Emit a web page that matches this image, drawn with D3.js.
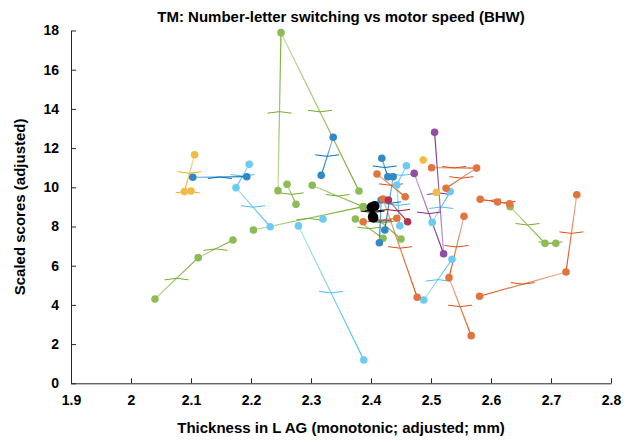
<!DOCTYPE html>
<html>
<head>
<meta charset="utf-8">
<script src="https://cdn.jsdelivr.net/npm/d3@7"></script>
<style>
  body { margin: 0; background: #fff; }
  svg text { font-family: "Liberation Sans", Arial, sans-serif; font-weight: bold; fill: #000; }
</style>
</head>
<body>
<div id="chart"></div>
<script>
// tick values
var xTicks = [1.9, 2.0, 2.1, 2.2, 2.3, 2.4, 2.5, 2.6, 2.7, 2.8];
var yTicks = [0, 2, 4, 6, 8, 10, 12, 14, 16, 18];

// trajectories per colour: each is a list of [thickness, score] visits
var greenPaths = [
    [[2.040, 4.30], [2.112, 6.41], [2.170, 7.31]],
    [[2.204, 7.82], [2.387, 9.01]],
    [[2.245, 9.83], [2.250, 17.89], [2.380, 9.81]],
    [[2.260, 10.15], [2.275, 9.13]],
    [[2.302, 10.10], [2.387, 9.01]],
    [[2.374, 8.38], [2.420, 7.40]],
    [[2.387, 9.01], [2.450, 7.36]],
    [[2.632, 9.01], [2.690, 7.14], [2.708, 7.14]]
];
var orangePaths = [
    [[2.582, 9.39], [2.611, 9.25], [2.631, 9.16]],
    [[2.743, 9.62], [2.725, 5.68], [2.581, 4.44]],
    [[2.555, 8.52], [2.530, 5.39], [2.567, 2.43]],
    [[2.420, 9.40], [2.477, 4.39]],
    [[2.410, 10.68], [2.457, 9.52]],
    [[2.501, 11.00], [2.576, 10.98], [2.525, 9.95]],
    [[2.387, 8.24], [2.443, 8.42]]
];
var lightBluePaths = [
    [[2.488, 4.25], [2.535, 6.33]],
    [[2.502, 8.21], [2.532, 9.78]],
    [[2.279, 8.03], [2.388, 1.19]],
    [[2.197, 11.17], [2.175, 9.98], [2.232, 7.99]],
    [[2.459, 11.10], [2.443, 10.12], [2.448, 8.04]],
    [[2.320, 8.38]]
];
var bluePaths = [
    [[2.103, 10.51], [2.193, 10.54]],
    [[2.337, 12.55], [2.317, 10.61]],
    [[2.418, 11.48], [2.428, 10.54]],
    [[2.437, 10.54], [2.423, 7.82]],
    [[2.417, 9.35], [2.414, 7.17]]
];
var yellowPaths = [
    [[2.106, 11.66], [2.089, 9.78], [2.100, 9.81]],
    [[2.487, 11.39]],
    [[2.509, 9.74]]
];
var purplePaths = [
    [[2.472, 10.71], [2.521, 6.61], [2.506, 12.81]]
];
var darkRedPaths = [
    [[2.429, 9.35], [2.461, 8.24]]
];
var blackPaths = [
    [[2.401, 8.98], [2.404, 8.45]],
    [[2.406, 9.05], [2.403, 8.50]]
];

var groups = [
    { line: "#77AC30", dot: "#8DBB55", paths: greenPaths, r: 3.8 },
    { line: "#4DBEEE", dot: "#6CCBF2", paths: lightBluePaths, r: 3.8 },
    { line: "#0072BD", dot: "#3088C8", paths: bluePaths, r: 3.8 },
    { line: "#EDB120", dot: "#F0BC45", paths: yellowPaths, r: 3.8 },
    { line: "#D95319", dot: "#E2743F", paths: orangePaths, r: 3.8 },
    { line: "#7E2F8E", dot: "#924CA2", paths: purplePaths, r: 3.8 },
    { line: "#A2142F", dot: "#B03552", paths: darkRedPaths, r: 3.8 },
    { line: "#000000", dot: "#000000", paths: blackPaths, r: 5 }
];

var width = 631, height = 442;
var margin = { top: 30.5, right: 20, bottom: 58.7, left: 71 };

var svg = d3.select("#chart").append("svg")
    .attr("width", width)
    .attr("height", height);

var x = d3.scaleLinear().domain([1.9, 2.8]).range([margin.left, width - margin.right]);
var y = d3.scaleLinear().domain([0, 18]).range([height - margin.bottom, margin.top]);

var defs = svg.append("defs");

// axes (ticks point inward)
var xAxis = svg.append("g")
    .attr("transform", "translate(0," + y(0) + ")")
    .call(d3.axisBottom(x).tickValues(xTicks).tickSizeInner(-5).tickSizeOuter(0).tickPadding(12)
        .tickFormat(function(d) { return d3.format("")(+d.toFixed(1)); }));
var yAxis = svg.append("g")
    .attr("transform", "translate(" + x(1.9) + ",0)")
    .call(d3.axisLeft(y).tickValues(yTicks).tickSizeInner(-5).tickSizeOuter(0).tickPadding(12));

[xAxis, yAxis].forEach(function(ax) {
    ax.select(".domain").attr("stroke", "#262626");
    ax.selectAll(".tick line").attr("stroke", "#262626");
    ax.selectAll(".tick text").attr("font-size", 14).attr("fill", "#000");
});

var plot = svg.append("g");
var segId = 0;

// lines with a fading gradient and a flat chevron at each midpoint
groups.forEach(function(g) {
    g.paths.forEach(function(p) {
        for (var i = 0; i < p.length - 1; i++) {
            var x0 = x(p[i][0]), y0 = y(p[i][1]), x1 = x(p[i + 1][0]), y1 = y(p[i + 1][1]);
            var id = "seg" + (segId++);
            var grad = defs.append("linearGradient").attr("id", id)
                .attr("gradientUnits", "userSpaceOnUse")
                .attr("x1", x0).attr("y1", y0).attr("x2", x1 + 0.01).attr("y2", y1);
            grad.append("stop").attr("offset", 0).attr("stop-color", g.line).attr("stop-opacity", 0.45);
            grad.append("stop").attr("offset", 1).attr("stop-color", g.line).attr("stop-opacity", 1);
            plot.append("line")
                .attr("x1", x0).attr("y1", y0).attr("x2", x1).attr("y2", y1)
                .attr("stroke", "url(#" + id + ")")
                .attr("stroke-width", 1.2);
            var mx = (x0 + x1) / 2, my = (y0 + y1) / 2;
            var dy = y1 < y0 ? 1.5 : -1.5;
            plot.append("path")
                .attr("d", "M" + (mx - 12) + "," + (my + dy) + "Q" + mx + "," + (my - dy) + " " + (mx + 12) + "," + (my + dy))
                .attr("fill", "none")
                .attr("stroke", g.line)
                .attr("stroke-width", 1);
        }
    });
});

groups.forEach(function(g) {
    plot.selectAll(null)
        .data(d3.merge(g.paths))
        .enter().append("circle")
        .attr("cx", function(d) { return x(d[0]); })
        .attr("cy", function(d) { return y(d[1]); })
        .attr("r", g.r)
        .attr("fill", g.dot);
});

// title and axis labels
svg.append("text")
    .attr("x", (x(1.9) + x(2.8)) / 2)
    .attr("y", 22)
    .attr("text-anchor", "middle")
    .attr("font-size", 15)
    .text("TM: Number-letter switching vs motor speed (BHW)");

svg.append("text")
    .attr("x", (x(1.9) + x(2.8)) / 2)
    .attr("y", 433)
    .attr("text-anchor", "middle")
    .attr("font-size", 15)
    .text("Thickness in L AG (monotonic; adjusted; mm)");

svg.append("text")
    .attr("transform", "translate(25," + y(9) + ") rotate(-90)")
    .attr("text-anchor", "middle")
    .attr("font-size", 15)
    .text("Scaled scores (adjusted)");
</script>
</body>
</html>
